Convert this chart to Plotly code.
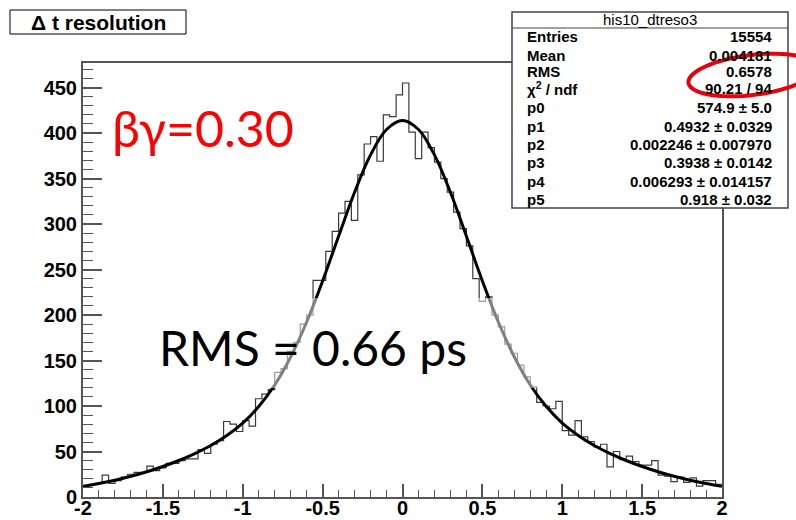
import plotly.graph_objects as go
import numpy as np

# ---------------- data ----------------
bin_low, bin_high, n_bins = -2.0, 2.0, 100
counts = [12, 14, 15, 24, 15, 18, 22, 25, 27, 27, 34, 29, 32, 37, 37, 40, 42, 42, 52, 48,
          58, 62, 83, 80, 72,
          84, 78, 108, 113, 118, 137, 141, 160, 170, 190, 200, 238, 238, 270, 292,
          312, 325, 304, 354, 388, 396, 369, 420, 418, 442,
          455, 401, 372, 401, 384, 368, 350, 335, 313, 295, 276, 240, 215, 220, 200,
          187, 168, 158, 145, 132, 121, 104, 100, 97, 105,
          73, 68, 84, 66, 61, 55, 58, 33, 50, 41, 45, 39, 35, 35, 40, 24, 23, 17, 22,
          16, 21, 12, 18, 18, 14]

fit_x = [-2.0, -1.9, -1.8, -1.7, -1.6, -1.5, -1.4, -1.3, -1.2, -1.1, -1.0, -0.9, -0.8, -0.7,
         -0.6, -0.5, -0.4, -0.3, -0.2, -0.1, 0.0, 0.1, 0.2, 0.3, 0.4, 0.5, 0.6, 0.7, 0.8,
         0.9, 1.0, 1.1, 1.2, 1.3, 1.4, 1.5, 1.6, 1.7, 1.8, 1.9, 2.0]
fit_y = [11.8, 14.9, 18.5, 22.8, 27.8, 33.5, 40.1, 47.7, 56.6, 67.6, 81.3, 99.4, 123.1, 153.9,
         192.3, 237.4, 286.6, 334.9, 376.0, 403.9, 413.8, 403.9, 376.0, 334.9, 286.6, 237.4,
         192.3, 153.9, 123.1, 99.4, 81.3, 67.6, 56.6, 47.7, 40.1, 33.5, 27.8, 22.8, 18.5,
         14.9, 11.8]

x_tick_vals = [-2, -1.5, -1, -0.5, 0, 0.5, 1, 1.5, 2]
x_tick_text = ["-2", "-1.5", "-1", "-0.5", "0", "0.5", "1", "1.5", "2"]
y_tick_vals = [0, 50, 100, 150, 200, 250, 300, 350, 400, 450]
y_max = 477

stats_title = "his10_dtreso3"
stats_labels = ["Entries", "Mean", "RMS", "χ<sup>2</sup> / ndf", "p0", "p1", "p2", "p3", "p4", "p5"]
stats_values = ["15554", "0.004181", "0.6578", "90.21 / 94", "574.9 ± 5.0", "0.4932 ± 0.0329",
                "0.002246 ± 0.007970", "0.3938 ± 0.0142", "0.006293 ± 0.014157", "0.918 ± 0.032"]

title_text = "Δ t resolution"
label_bg = "βγ=0.30"
label_rms = "RMS = 0.66 ps"

# ---------------- layout geometry (pixels) ----------------
W, H = 796, 520
PL, PR, PT, PB = 83, 722, 63, 497


def px(x):
    return (x - PL) / (PR - PL)


def py(y):
    return (PB - y) / (PB - PT)


edges = np.linspace(bin_low, bin_high, n_bins + 1)
hist_y = list(counts) + [counts[-1]]

fig = go.Figure()
fig.add_trace(go.Scatter(x=edges, y=hist_y, mode="lines", line_shape="hv",
                         line=dict(color="#3a3a3a", width=1.2), hoverinfo="skip",
                         showlegend=False))
fig.add_trace(go.Scatter(x=fit_x, y=fit_y, mode="lines", line_shape="spline",
                         line=dict(color="black", width=3), hoverinfo="skip",
                         showlegend=False))

axfont = dict(family="Liberation Sans, Arial, sans-serif", size=20, color="black", weight="bold")
fig.update_xaxes(range=[bin_low, bin_high], tickvals=x_tick_vals, ticktext=x_tick_text,
                 ticks="inside", ticklen=13, tickwidth=1.5, tickcolor="#555",
                 minor=dict(ticks="inside", ticklen=7, dtick=0.1, tickwidth=1.2, tickcolor="#555"),
                 showline=True, linecolor="#555", linewidth=2, mirror=True,
                 showgrid=False, zeroline=False, tickfont=axfont, automargin=False,
                 ticklabelstandoff=-8)
fig.update_yaxes(range=[0, y_max], tickvals=y_tick_vals,
                 ticks="inside", ticklen=19, tickwidth=1.5, tickcolor="#555",
                 minor=dict(ticks="inside", ticklen=10, dtick=10, tickwidth=1.2, tickcolor="#555"),
                 showline=True, linecolor="#555", linewidth=2, mirror=True,
                 showgrid=False, zeroline=False, tickfont=axfont, automargin=False)

shapes = []
annotations = []

# translucent box behind "RMS = 0.66 ps"
shapes.append(dict(type="rect", xref="paper", yref="paper", x0=px(140), x1=px(560),
                   y0=py(388), y1=py(298), fillcolor="rgba(255,255,255,0.5)",
                   line=dict(width=0), layer="above"))

# title box
shapes.append(dict(type="rect", xref="paper", yref="paper", x0=px(10), x1=px(186),
                   y0=py(34), y1=py(10), fillcolor="white", line=dict(color="black", width=1),
                   layer="above"))
annotations.append(dict(text=title_text, xref="paper", yref="paper", x=px(98), y=py(22),
                        showarrow=False, xanchor="center", yanchor="middle",
                        font=dict(family="Liberation Sans, Arial, sans-serif", size=21,
                                  color="black", weight="bold")))

# stats box
shapes.append(dict(type="rect", xref="paper", yref="paper", x0=px(512), x1=px(788),
                   y0=py(208), y1=py(12), fillcolor="white", line=dict(color="#444", width=1.5),
                   layer="above"))
shapes.append(dict(type="line", xref="paper", yref="paper", x0=px(512), x1=px(788),
                   y0=py(28), y1=py(28), line=dict(color="#444", width=1.2), layer="above"))
sfont = dict(family="Liberation Sans, Arial, sans-serif", size=15, color="black", weight="bold")
annotations.append(dict(text=stats_title, xref="paper", yref="paper", x=px(650), y=py(19),
                        showarrow=False, xanchor="center", yanchor="middle",
                        font=dict(family="Liberation Sans, Arial, sans-serif", size=15,
                                  color="black")))
row_y = [37, 55, 72, 89, 107, 126, 144, 162, 181, 199]
for lab, val, yy in zip(stats_labels, stats_values, row_y):
    annotations.append(dict(text=lab, xref="paper", yref="paper", x=px(525), y=py(yy),
                            showarrow=False, xanchor="left", yanchor="middle", font=sfont))
    annotations.append(dict(text=val, xref="paper", yref="paper", x=px(774), y=py(yy),
                            showarrow=False, xanchor="right", yanchor="middle", font=sfont))

# red ellipse around RMS
cx, cy, rx, ry, ang = 752, 75, 64, 20, np.deg2rad(-7)
t = np.linspace(0, 2 * np.pi, 73)
ex = cx + rx * np.cos(t) * np.cos(ang) - ry * np.sin(t) * np.sin(ang)
ey = cy + rx * np.cos(t) * np.sin(ang) + ry * np.sin(t) * np.cos(ang)
path = "M " + " L ".join(f"{px(a):.5f},{py(b):.5f}" for a, b in zip(ex, ey)) + " Z"
shapes.append(dict(type="path", xref="paper", yref="paper", path=path,
                   line=dict(color="#e8000b", width=4), layer="above"))

# big labels
annotations.append(dict(text=label_bg, xref="paper", yref="paper", x=px(110), y=py(128),
                        showarrow=False, xanchor="left", yanchor="middle",
                        font=dict(family="Lato, sans-serif", size=50, color="#ff0000")))
annotations.append(dict(text=label_rms, xref="paper", yref="paper", x=px(157), y=py(347),
                        showarrow=False, xanchor="left", yanchor="middle",
                        font=dict(family="Lato, sans-serif", size=48, color="black")))

fig.update_layout(width=W, height=H, margin=dict(l=PL, r=W - PR, t=PT, b=H - PB),
                  paper_bgcolor="white", plot_bgcolor="white",
                  shapes=shapes, annotations=annotations, showlegend=False)

fig.write_html("out.html")
